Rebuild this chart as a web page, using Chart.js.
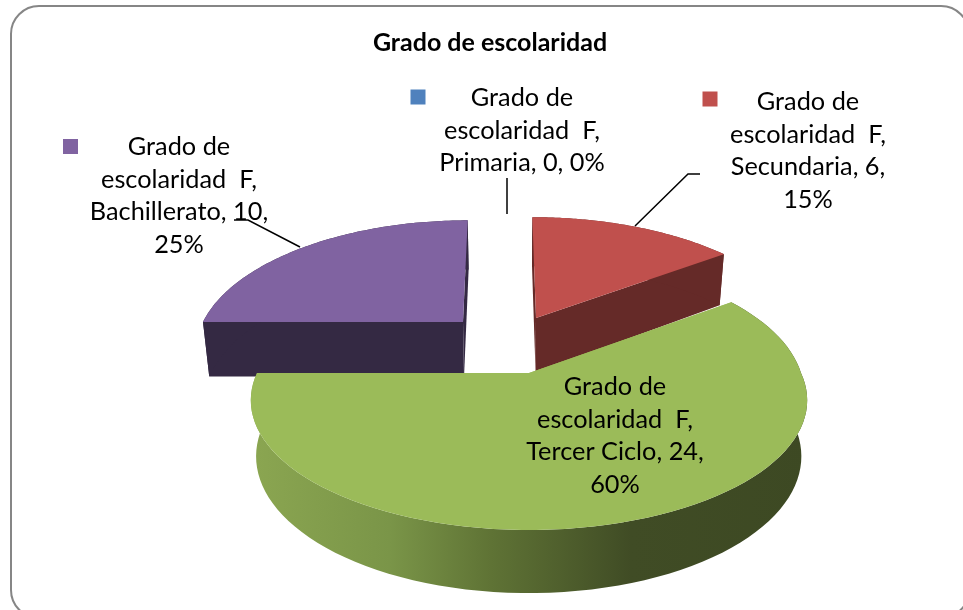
<!DOCTYPE html>
<html>
<head>
<meta charset="utf-8">
<style>html,body{margin:0;padding:0;background:#fff;overflow:hidden}canvas{display:block}</style>
<script src="https://cdn.jsdelivr.net/npm/chart.js@4"></script>
</head>
<body>
<canvas id="c" width="963" height="610"></canvas>
<script>
const chartTitle = "Grado de escolaridad";
const seriesName = "Grado de escolaridad  F";
const categories = ["Primaria", "Secundaria", "Tercer Ciclo", "Bachillerato"];
const values = [0, 6, 24, 10];
const percents = [0, 15, 60, 25];
const colors = ["#4f81bd", "#c0504d", "#9bbb59", "#8063a1"];
const wallColors = ["#385d8a", "#652a28", "#9bbb59", "#342943"];

// per-slice placement of the exploded 3D pie
const sliceView = [
  null,
  {ax: 536, ay: 318, vx: 515, A: 264, B: 122},
  {ax: 529, ay: 373,   vx: 529, A: 272, B: 124, backB: 131, backK: 0.15},
  {ax: 463, ay: 322,   vx: 490, A: 260, B: 123}
];
const K = 0.21;
const labelView = [
  {x: 522, y: 98,  keyX: 418, keyY: 97,  sep: true},
  {x: 808, y: 102, keyX: 710, keyY: 99},
  {x: 615, y: 387},
  {x: 179, y: 147, keyX: 70.5, keyY: 146.5}
];
const leaders = [
  [[507, 178], [507, 214]],
  [[700, 174], [688, 174], [635, 226]],
  [[234, 220], [248, 220], [300, 247]]
];

function project(v, theta, r) {
  const X = Math.sin(theta) * r, Y = Math.cos(theta) * r;
  const back = Y > 0 && v.backB;
  const s = 1 / (1 + (back ? v.backK : K) * Y);
  return {x: v.vx + (v.ax - v.vx + X * v.A) * s, y: v.ay - Y * (back ? v.backB : v.B) * s, s};
}
function lower(p) {
  return {x: 515 + (p.x - 515) * 0.98, y: p.y + 54.6 + (p.s - 1) * 32};
}
function poly(ctx, pts) {
  ctx.beginPath();
  pts.forEach((p, i) => i ? ctx.lineTo(p.x, p.y) : ctx.moveTo(p.x, p.y));
  ctx.closePath();
}
function labelLines(i) {
  const head = ["Grado de", "escolaridad  F,"];
  if (labelView[i].sep) return head.concat(`${categories[i]}, ${values[i]}, ${percents[i]}%`);
  return head.concat(`${categories[i]}, ${values[i]},`, `${percents[i]}%`);
}

const pie3d = {
  id: "pie3d",
  beforeDraw(chart) {
    const ctx = chart.ctx;
    ctx.save();
    ctx.fillStyle = "#fff";
    ctx.fillRect(0, 0, 963, 610);
    ctx.beginPath();
    ctx.roundRect(11, 6, 958, 612, 28);
    ctx.strokeStyle = "#868686";
    ctx.lineWidth = 2;
    ctx.stroke();
    ctx.restore();
  },
  beforeDatasetDraw(chart) {
    const ctx = chart.ctx;
    const arcs = chart.getDatasetMeta(0).data;
    ctx.save();
    [3, 1, 2].forEach(i => {
      const v = sliceView[i], arc = arcs[i];
      if (!values[i]) return;
      const t1 = arc.startAngle + Math.PI / 2, t2 = arc.endAngle + Math.PI / 2;
      const rim = [];
      const n = 90;
      for (let j = 0; j <= n; j++) rim.push(project(v, t1 + (t2 - t1) * j / n, 1));
      const apex = project(v, 0, 0);
      // side walls
      ctx.fillStyle = wallColors[i];
      poly(ctx, [apex, rim[0], lower(rim[0]), lower(apex)]); ctx.fill();
      poly(ctx, [apex, rim[n], lower(rim[n]), lower(apex)]); ctx.fill();
      let rimFill = wallColors[i];
      if (i === 2) {
        const g = ctx.createLinearGradient(250, 0, 810, 0);
        g.addColorStop(0, "#8ba651");
        g.addColorStop(0.25, "#7a9548");
        g.addColorStop(0.43, "#5f7335");
        g.addColorStop(0.68, "#404c25");
        g.addColorStop(1, "#3d4923");
        rimFill = g;
      }
      ctx.fillStyle = rimFill;
      poly(ctx, rim.concat(rim.slice().reverse().map(lower))); ctx.fill();
      // top face
      ctx.fillStyle = colors[i];
      poly(ctx, [apex].concat(rim)); ctx.fill();
    });
    ctx.restore();
    return false;
  },
  afterDatasetsDraw(chart) {
    const ctx = chart.ctx;
    ctx.save();
    ctx.strokeStyle = "#000";
    ctx.lineWidth = 1.5;
    leaders.forEach(l => {
      ctx.beginPath();
      l.forEach((p, i) => i ? ctx.lineTo(p[0], p[1]) : ctx.moveTo(p[0], p[1]));
      ctx.stroke();
    });
    ctx.font = '25.3px Lato, "Open Sans", sans-serif';
    ctx.textAlign = "center";
    ctx.textBaseline = "middle";
    ctx.fillStyle = "#000";
    categories.forEach((c, i) => {
      const lv = labelView[i];
      labelLines(i).forEach((t, j) => ctx.fillText(t, lv.x, lv.y + j * 32.6));
      if (lv.keyX) {
        ctx.fillStyle = colors[i];
        ctx.fillRect(lv.keyX - 7.5, lv.keyY - 7.5, 15, 15);
        ctx.fillStyle = "#000";
      }
    });
    ctx.restore();
  }
};

new Chart(document.getElementById("c"), {
  type: "pie",
  data: {labels: categories, datasets: [{label: seriesName, data: values, backgroundColor: colors, borderWidth: 0}]},
  options: {
    responsive: false,
    animation: false,
    layout: {padding: {left: 17, top: 0}},
    plugins: {
      legend: {display: false},
      tooltip: {enabled: false},
      title: {
        display: true,
        text: chartTitle,
        color: "#000",
        font: {family: 'Lato, "Open Sans", sans-serif', size: 25, weight: "bold"},
        padding: {top: 28, bottom: 10}
      }
    }
  },
  plugins: [pie3d]
});
</script>
</body>
</html>
